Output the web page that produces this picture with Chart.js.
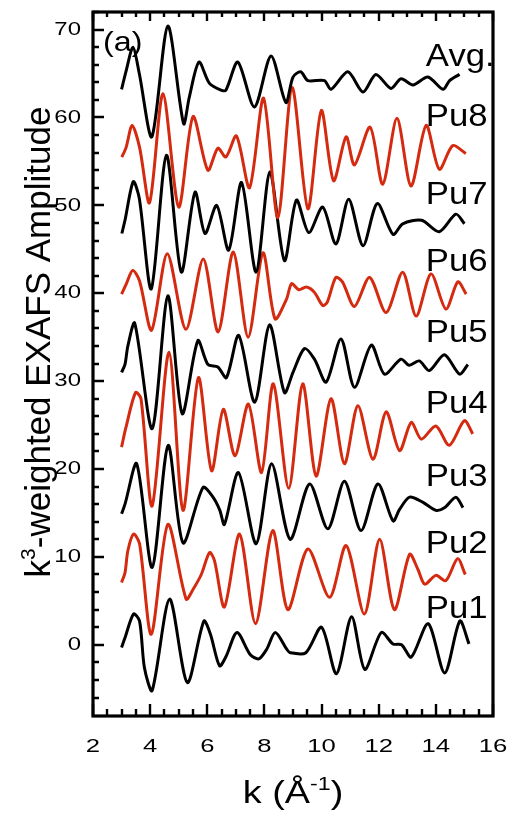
<!DOCTYPE html>
<html>
<head>
<meta charset="utf-8">
<script src="https://cdn.jsdelivr.net/npm/chart.js@4.4.1/dist/chart.umd.min.js"></script>
<style>
  html, body { margin: 0; padding: 0; background: #fff; }
</style>
</head>
<body>
<canvas id="exafs" width="511" height="815"></canvas>
<script>
// numbered ticks
const kLabels = [2, 4, 6, 8, 10, 12, 14, 16];
const ampLabels = [0, 10, 20, 30, 40, 50, 60, 70];

// k^3-weighted traces, stacked with offsets: [k, amplitude]
const avg = [[3.0,63.2],[3.16,65.3],[3.4,68.0],[3.62,65.0],[4.06,57.8],[4.62,70.4],[5.17,59.3],[5.37,62.3],
  [5.71,66.3],[6.07,63.9],[6.48,63.1],[6.65,63.1],[7.07,66.3],[7.65,61.2],[8.23,67.0],[8.75,61.7],[9.0,64.6],
  [9.27,65.2],[9.52,64.2],[10.1,64.2],[10.33,63.2],[10.92,65.2],[11.45,62.9],[11.9,64.9],[12.43,63.3],
  [12.78,64.4],[13.2,63.7],[13.72,64.6],[14.25,63.2],[14.48,64.2],[14.83,64.9]];
const pu8 = [[3.01,55.5],[3.16,56.6],[3.37,59.1],[3.63,56.6],[3.98,50.3],[4.45,62.7],[5.0,49.8],[5.5,60.1],
  [6.02,54.0],[6.37,56.5],[6.65,55.5],[7.02,57.9],[7.48,52.0],[7.97,62.2],[8.47,48.6],[8.97,63.4],[9.52,49.6],
  [9.99,60.8],[10.42,52.8],[10.86,57.8],[11.15,54.6],[11.7,58.9],[12.14,52.4],[12.64,59.9],[13.13,52.2],
  [13.66,59.1],[14.12,54.1],[14.59,56.8],[15.05,55.9]];
const pu7 = [[3.01,46.8],[3.12,48.3],[3.41,52.7],[3.62,50.8],[4.04,40.5],[4.57,55.7],[5.09,42.4],[5.57,51.5],
  [5.92,46.8],[6.33,50.0],[6.75,44.9],[7.2,52.6],[7.71,42.4],[8.19,53.8],[8.7,43.7],[9.12,50.6],[9.55,46.9],
  [10.04,49.8],[10.5,45.6],[10.95,50.7],[11.45,45.4],[11.95,50.2],[12.5,46.7],[12.84,47.9],[13.5,48.3],
  [14.12,47.0],[14.7,49.0],[15.0,47.9]];
const pu6 = [[3.0,39.9],[3.17,41.1],[3.39,42.6],[3.63,41.4],[4.05,35.8],[4.6,44.5],[5.25,35.9],[5.86,43.9],
  [6.38,35.6],[6.91,44.7],[7.43,35.0],[7.95,44.6],[8.37,37.1],[8.77,39.3],[8.95,41.1],[9.2,40.4],[9.47,40.7],
  [9.75,40.1],[10.04,38.6],[10.2,39.0],[10.5,41.8],[10.73,41.3],[11.15,38.5],[11.68,41.8],[12.26,37.8],
  [12.84,42.4],[13.31,37.4],[13.83,42.2],[14.35,38.2],[14.77,41.3],[15.06,39.9]];
const pu5 = [[3.0,31.0],[3.12,31.9],[3.22,34.0],[3.46,36.6],[4.07,24.6],[4.62,39.7],[5.12,26.3],[5.67,34.6],
  [6.02,31.9],[6.37,31.6],[6.67,30.4],[7.1,35.2],[7.66,27.6],[8.18,36.4],[8.7,28.7],[9.0,31.0],[9.4,33.7],
  [9.75,32.5],[10.16,29.9],[10.68,34.8],[11.15,29.3],[11.74,34.1],[12.2,30.8],[12.78,32.5],[13.07,31.8],
  [13.42,32.3],[13.77,31.2],[14.3,33.0],[14.83,30.8],[15.12,31.9]];
const pu4 = [[3.0,22.5],[3.15,24.7],[3.49,28.7],[3.68,28.0],[4.07,15.8],[4.66,33.3],[5.15,15.3],[5.69,30.4],
  [6.15,19.8],[6.56,26.8],[6.97,21.5],[7.44,27.4],[7.9,19.6],[8.31,29.7],[8.85,17.8],[9.34,29.7],[9.81,19.2],
  [10.33,28.0],[10.8,20.6],[11.27,27.2],[11.8,21.1],[12.26,26.5],[12.73,22.1],[13.14,25.3],[13.49,23.4],
  [14.0,24.9],[14.47,22.7],[15.0,25.5],[15.29,24.0]];
const pu3 = [[3.0,14.9],[3.12,16.0],[3.53,20.6],[4.07,8.8],[4.63,22.7],[5.15,11.6],[5.85,17.9],[6.2,16.8],
  [6.44,15.3],[6.6,13.7],[7.09,19.6],[7.71,11.5],[8.25,20.6],[8.9,12.0],[9.58,18.3],[10.22,13.2],[10.8,18.6],
  [11.38,13.0],[11.97,18.3],[12.5,14.1],[12.73,15.4],[13.08,16.8],[13.55,16.2],[14.0,15.3],[14.3,15.6],
  [14.7,16.8],[14.95,15.6]];
const pu2 = [[3.0,7.1],[3.12,8.2],[3.22,10.7],[3.42,12.6],[3.63,11.5],[4.04,1.2],[4.62,13.7],[5.26,5.2],
  [5.5,6.3],[5.79,8.0],[6.08,10.5],[6.25,9.6],[6.6,4.3],[7.13,12.6],[7.69,2.4],[8.29,13.0],[8.82,4.0],
  [9.52,10.9],[10.28,5.4],[10.86,11.3],[11.5,3.5],[12.03,12.0],[12.55,4.0],[13.08,10.3],[13.37,8.6],
  [13.61,6.9],[14.0,7.9],[14.35,7.3],[14.76,9.8],[15.03,8.0]];
const pu1 = [[3.0,-0.3],[3.12,0.8],[3.42,3.5],[3.63,2.7],[3.8,-2.6],[4.07,-5.2],[4.68,5.2],[5.3,-4.3],
  [5.88,2.7],[6.11,1.2],[6.43,-2.4],[6.66,-1.3],[7.04,1.4],[7.5,-1.1],[7.8,-1.6],[8.08,-0.5],[8.38,1.4],
  [8.78,-0.5],[8.9,-0.9],[9.45,-0.9],[10.0,2.0],[10.52,-3.3],[11.05,3.2],[11.51,-2.8],[12.09,1.4],[12.5,0.1],
  [12.8,0.0],[13.14,-1.4],[13.73,2.4],[14.31,-3.2],[14.84,2.7],[15.16,0.1]];

const traceNames = ['Avg.', 'Pu8', 'Pu7', 'Pu6', 'Pu5', 'Pu4', 'Pu3', 'Pu2', 'Pu1'];
const traces = [avg, pu8, pu7, pu6, pu5, pu4, pu3, pu2, pu1];

// name tags: left edge in k, baseline in amplitude units
const tagK = 13.65;
const tagBase = [65.9, 59.0, 50.2, 42.5, 34.4, 26.4, 18.1, 10.5, 3.1];

const BLACK = '#000000';
const RED = '#d42a10';
const FONT = '"Liberation Sans", Arial, Helvetica, sans-serif';

// text stretched along x
function wideText(ctx, str, x, y, sx, align) {
  ctx.save();
  ctx.translate(x, y);
  ctx.scale(sx, 1);
  ctx.textAlign = align || 'left';
  ctx.fillText(str, 0, 0);
  ctx.restore();
}

const framePlugin = {
  id: 'frame',
  afterDraw(chart) {
    const { ctx, chartArea: a, scales: { x, y } } = chart;
    ctx.save();
    ctx.strokeStyle = BLACK;
    ctx.fillStyle = BLACK;

    // inward ticks: bottom and top for k, left for amplitude
    ctx.lineWidth = 2.4;
    ctx.beginPath();
    x.ticks.forEach(t => {
      const px = Math.round(x.getPixelForValue(t.value));
      const major = kLabels.includes(t.value);
      ctx.moveTo(px, a.bottom);
      ctx.lineTo(px, a.bottom - (major ? 12 : 7));
      ctx.moveTo(px, a.top);
      ctx.lineTo(px, a.top + (major ? 9 : 5));
    });
    y.ticks.forEach(t => {
      if (Math.abs(t.value / 2 - Math.round(t.value / 2)) > 1e-6) return;
      const py = Math.round(y.getPixelForValue(t.value));
      const major = ampLabels.includes(t.value);
      ctx.moveTo(a.left, py);
      ctx.lineTo(a.left + (major ? 11 : 6), py);
    });
    ctx.stroke();

    ctx.lineWidth = 3.2;
    ctx.strokeRect(a.left, a.top, a.right - a.left, a.bottom - a.top);

    // tick numbers
    ctx.font = '19px ' + FONT;
    ctx.textBaseline = 'middle';
    kLabels.forEach(v => wideText(ctx, String(v), x.getPixelForValue(v), a.bottom + 31, 1.35, 'center'));
    ampLabels.forEach(v => wideText(ctx, String(v), a.left - 12, y.getPixelForValue(v), 1.26, 'right'));

    // trace names
    ctx.textBaseline = 'alphabetic';
    ctx.font = '31px ' + FONT;
    traceNames.forEach((n, i) => wideText(ctx, n, x.getPixelForValue(tagK), y.getPixelForValue(tagBase[i]), 1.12, 'left'));

    // panel letter
    ctx.font = '28px ' + FONT;
    wideText(ctx, '(a)', a.left + 10, a.top + 39, 1.15, 'left');

    // x title: k (Å^-1)
    const sx = 1.22;
    const big = '31px ' + FONT, small = '19px ' + FONT;
    ctx.font = big;
    const w1 = ctx.measureText('k (Å').width, w3 = ctx.measureText(')').width;
    ctx.font = small;
    const w2 = ctx.measureText('-1').width;
    const total = (w1 + w2 + w3) * sx;
    let cx = (a.left + a.right) / 2 - total / 2;
    const base = a.bottom + 87;
    ctx.font = big;
    wideText(ctx, 'k (Å', cx, base, sx, 'left');
    cx += w1 * sx;
    ctx.font = small;
    wideText(ctx, '-1', cx, base - 13, sx, 'left');
    cx += w2 * sx;
    ctx.font = big;
    wideText(ctx, ')', cx, base, sx, 'left');

    // y title: k^3-weighted EXAFS Amplitude, reading upward
    ctx.save();
    ctx.translate(50, 342);
    ctx.rotate(-Math.PI / 2);
    const yBig = '35px ' + FONT, ySmall = '21px ' + FONT;
    ctx.font = yBig;
    const t1 = ctx.measureText('k').width, t3 = ctx.measureText('-weighted EXAFS Amplitude').width;
    ctx.font = ySmall;
    const t2 = ctx.measureText('3').width;
    let tx = -(t1 + t2 + t3) / 2;
    ctx.textAlign = 'left';
    ctx.font = yBig;
    ctx.fillText('k', tx, 0);
    tx += t1;
    ctx.font = ySmall;
    ctx.fillText('3', tx, -15);
    tx += t2;
    ctx.font = yBig;
    ctx.fillText('-weighted EXAFS Amplitude', tx, 0);
    ctx.restore();

    ctx.restore();
  }
};

const datasets = traces.map((t, i) => ({
  label: traceNames[i],
  data: t.map(([k, amp]) => ({ x: k, y: amp })),
  borderColor: i % 2 ? RED : BLACK,
  borderWidth: 3,
  pointRadius: 0,
  fill: false,
  tension: 0.28
}));

new Chart(document.getElementById('exafs'), {
  type: 'line',
  data: { datasets },
  options: {
    responsive: false,
    animation: false,
    devicePixelRatio: 1,
    layout: { padding: { top: 12, right: 18, left: 0, bottom: 0 } },
    plugins: { legend: { display: false }, tooltip: { enabled: false } },
    scales: {
      x: {
        type: 'linear',
        min: 2,
        max: 16,
        ticks: { stepSize: 0.5, display: false },
        grid: { display: false },
        border: { display: false },
        afterFit(s) { s.height = 99; }
      },
      y: {
        type: 'linear',
        min: -8.1,
        max: 72,
        ticks: { stepSize: 2, display: false },
        grid: { display: false },
        border: { display: false },
        afterFit(s) { s.width = 93; }
      }
    }
  },
  plugins: [framePlugin]
});
</script>
</body>
</html>
